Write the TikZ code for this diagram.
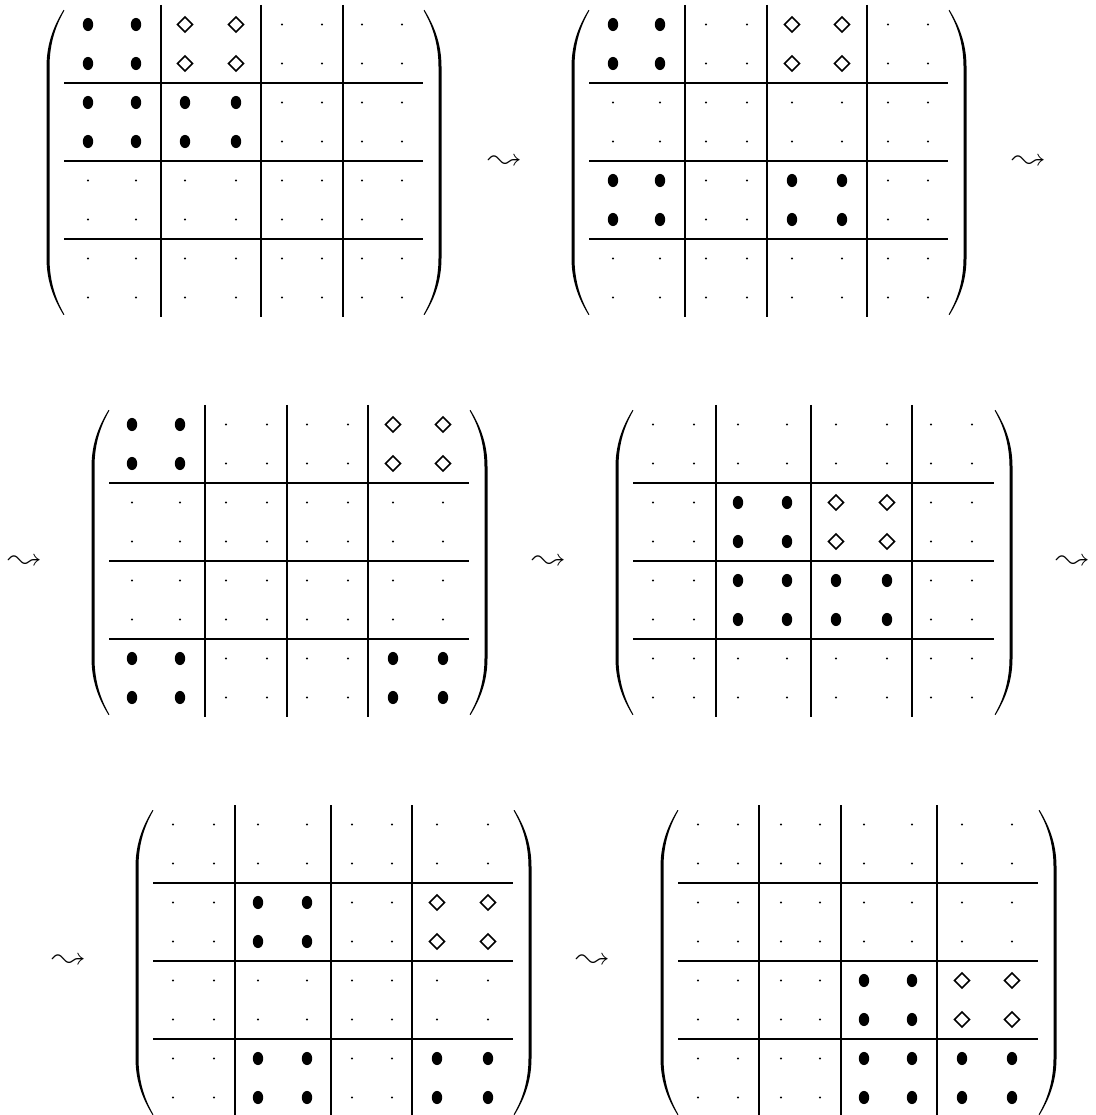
\documentclass[tikz,border=0pt]{standalone}
\usepackage{amsmath}
\usepackage{latexsym}

% one 8x8 block matrix: top, left/right end of the rules, rule columns, entry columns, block kinds (0 dot, 1 bullet, 2 diamond)
\newcommand{\blockmat}[6]{%
	\foreach \ii in {0,...,7}{
		\foreach \jj in {0,...,7}{
			\pgfmathsetmacro{\cx}{{#5}[\jj]}
			\pgfmathsetmacro{\cy}{#1+78*int(\ii/2)+19.5+39*mod(\ii,2)}
			\pgfmathtruncatemacro{\kind}{{#6}[4*int(\ii/2)+int(\jj/2)]}
			\ifcase\kind
				\fill[dotentry] (\cx,\cy) circle (1.1);
			\or
				\fill[fullentry] (\cx,\cy) ellipse (5.2 and 6.6);
			\or
				\draw[diamentry] (\cx-7.5,\cy) -- (\cx,\cy-7.5) -- (\cx+7.5,\cy) -- (\cx,\cy+7.5) -- cycle;
			\fi
		}
	}
	\foreach \vv in {#4} \draw[blockrule] (\vv,#1) -- (\vv,#1+312);
	\foreach \hh in {78,156,234} \draw[blockrule] (#2,#1+\hh) -- (#3,#1+\hh);
	\begin{scope}[shift={(#2-0.5,#1)}]
		\fill[parenfill] (0,5) .. controls (-8.5,19) and (-17,37) .. (-17,62) -- (-17,253) .. controls (-17,278) and (-8.5,296) .. (0,310) -- (0.9,309.5) .. controls (-7.5,295) and (-14,277) .. (-14,253) -- (-14,62) .. controls (-14,38) and (-7.5,20) .. (0.9,5.5) -- cycle;
	\end{scope}
	\begin{scope}[shift={(#3+1.5,#1)}, xscale=-1]
		\fill[parenfill] (0,5) .. controls (-8.5,19) and (-17,37) .. (-17,62) -- (-17,253) .. controls (-17,278) and (-8.5,296) .. (0,310) -- (0.9,309.5) .. controls (-7.5,295) and (-14,277) .. (-14,253) -- (-14,62) .. controls (-14,38) and (-7.5,20) .. (0.9,5.5) -- cycle;
	\end{scope}
}

\begin{document}
\begin{tikzpicture}[
	x=0.3pt, y=-0.3pt,
	blockrule/.style={line width=0.6pt},
	dotentry/.style={fill=black},
	fullentry/.style={fill=black},
	diamentry/.style={draw=black, line width=0.5pt},
	parenfill/.style={fill=black},
	every node/.style={inner sep=0pt}
	]
	\useasboundingbox (0,0) rectangle (1095,1115);
	
	% first row
	\blockmat{5}{64}{423}{161,261,343}{88,136,185,236,282,322,362,402}{1,2,0,0, 1,1,0,0, 0,0,0,0, 0,0,0,0}
	\node (lt-1) at (505,162) {$\leadsto$};
	\blockmat{5}{589}{948}{685,767,867}{613,660,706,747,792,842,888,928}{1,0,2,0, 0,0,0,0, 1,0,1,0, 0,0,0,0}
	\node (lt-2) at (1029,162) {$\leadsto$};
	
	% second row
	\node (lt-3) at (25,562) {$\leadsto$};
	\blockmat{405}{109}{469}{205,287,368}{132,180,226,267,307,348,393,443}{1,0,0,2, 0,0,0,0, 0,0,0,0, 1,0,0,1}
	\node (lt-4) at (549,562) {$\leadsto$};
	\blockmat{405}{633}{994}{716,811,912}{653,694,738,787,836,887,931,972}{0,0,0,0, 0,1,2,0, 0,1,1,0, 0,0,0,0}
	\node (lt-5) at (1073,562) {$\leadsto$};
	
	% third row
	\node (lt-6) at (69,961) {$\leadsto$};
	\blockmat{805}{153}{513}{235,331,412}{173,214,258,307,352,392,437,488}{0,0,0,0, 0,1,0,2, 0,0,0,0, 0,1,0,1}
	\node (lt-7) at (593,961) {$\leadsto$};
	\blockmat{805}{678}{1038}{759,841,937}{698,738,781,820,864,912,962,1012}{0,0,0,0, 0,0,0,0, 0,0,1,2, 0,0,1,1}
\end{tikzpicture}
\end{document}
